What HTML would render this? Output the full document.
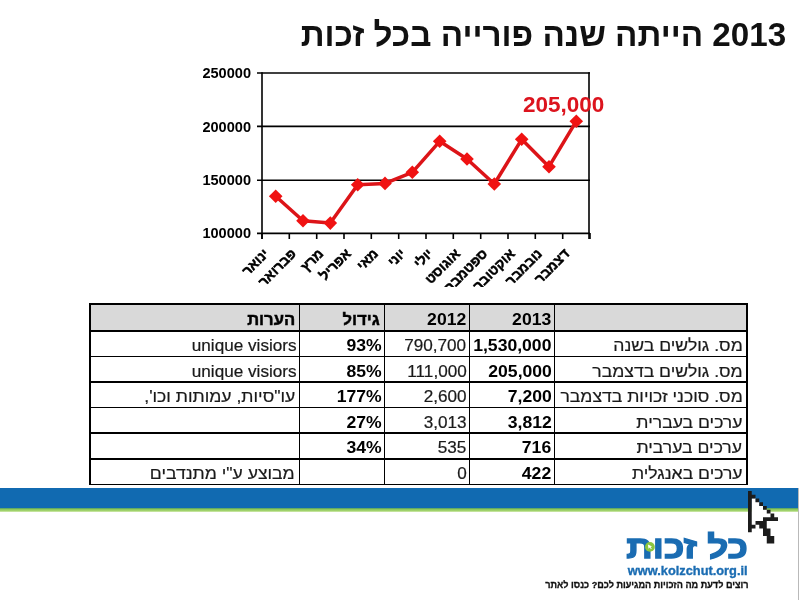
<!DOCTYPE html>
<html lang="he"><head><meta charset="utf-8"><title>2013 הייתה שנה פורייה בכל זכות</title>
<style>
html,body{margin:0;padding:0;background:#fff}
body{width:800px;height:600px;position:relative;overflow:hidden;font-family:"Liberation Sans",sans-serif;color:#000}
#title{position:absolute;right:13.8px;top:15.4px;font-size:33.2px;font-weight:700;direction:rtl;white-space:nowrap;line-height:40px;color:#111}
#chart{position:absolute;left:0;top:0}
#tbl{position:absolute;left:0;top:0;width:800px;height:600px}
#tbl .frame{position:absolute;left:88.5px;top:302.5px;width:655.5px;height:179.3px;border:2px solid #000;border-bottom-width:1.5px;box-sizing:content-box}
#tbl .hd{position:absolute;left:90px;top:304px;width:657px;height:27px;background:#d9d9d9}
.hl{position:absolute;left:90px;width:657px;height:1.5px;background:#000}
.vl{position:absolute;top:304px;height:180px;width:1.5px;background:#000}
.c{position:absolute;box-sizing:border-box;padding:0 3px;text-align:right;white-space:nowrap;font-size:15.8px;-webkit-text-stroke:0.2px #1a1a1a;display:flex;align-items:center;justify-content:flex-end;color:#1a1a1a}
.c span{display:inline-block;transform:scaleX(1.085);transform-origin:right center;position:relative;top:2.4px}
.c.he,.c.heb{direction:rtl;justify-content:flex-start;font-size:16px;padding:0 4.5px}
.c.he span,.c.heb span{transform:scaleX(1.10);top:2.4px}
.c.la{font-size:15.8px}
.c.nb,.c.heb{font-weight:700;color:#000;-webkit-text-stroke:0}
.c.nb{font-size:16.3px}
.c.nb span{transform:scaleX(1.08);top:1.8px}
.c.heb{-webkit-text-stroke:0.45px #000}
.c.heb span{transform:scaleX(1.04);top:2.2px}
#band{position:absolute;left:0;top:488px;width:798px;height:20px;background:#116ab1}
#band2{position:absolute;left:0;top:508px;width:798px;height:3.8px;background:linear-gradient(#4a9a6a,#8fc95c 35%,#a6d572 75%,#dff0c4)}
#logo{position:absolute;right:52.5px;top:527px;font-size:31.5px;font-weight:700;color:#1a6cb2;direction:rtl;white-space:nowrap;line-height:40px;-webkit-text-stroke:1.3px #1a6cb2;transform:scaleX(1.17);transform-origin:right center}
#dot{position:absolute;left:645.4px;top:542.2px;width:9.8px;height:9.8px}
#redge{position:absolute;left:798px;top:488px;width:1.4px;height:112px;background:#b9b9b9}
#url{position:absolute;right:52.6px;top:561.6px;font-size:13px;font-weight:700;color:#1a6cb2;white-space:nowrap;line-height:18px;-webkit-text-stroke:0.35px #1a6cb2;transform:scaleX(0.985);transform-origin:right center}
#tag{position:absolute;right:51.5px;top:577.4px;font-size:9.8px;font-weight:700;color:#111;direction:rtl;white-space:nowrap;line-height:16px;-webkit-text-stroke:0.3px #111;transform:scaleX(0.93);transform-origin:right center}
#cursor{position:absolute;left:748.25px;top:491px}
</style></head><body>
<div id="title">2013 הייתה שנה פורייה בכל זכות</div>
<svg id="chart" width="800" height="300" viewBox="0 0 800 300">
<defs><clipPath id="cp"><rect x="200" y="236" width="420" height="51"/></clipPath></defs>
<g stroke="#000" stroke-width="1.6" fill="none">
<line x1="257" y1="73" x2="590" y2="73"/><line x1="257" y1="126.4" x2="590" y2="126.4"/><line x1="257" y1="180.3" x2="590" y2="180.3"/><line x1="257" y1="233.4" x2="590" y2="233.4"/>
<line x1="262" y1="72.2" x2="262" y2="239"/><line x1="589" y1="72.2" x2="589" y2="239"/>
<line x1="262.0" y1="233" x2="262.0" y2="239"/><line x1="289.3" y1="233" x2="289.3" y2="239"/><line x1="316.7" y1="233" x2="316.7" y2="239"/><line x1="344.0" y1="233" x2="344.0" y2="239"/><line x1="371.3" y1="233" x2="371.3" y2="239"/><line x1="398.7" y1="233" x2="398.7" y2="239"/><line x1="426.0" y1="233" x2="426.0" y2="239"/><line x1="453.3" y1="233" x2="453.3" y2="239"/><line x1="480.7" y1="233" x2="480.7" y2="239"/><line x1="508.0" y1="233" x2="508.0" y2="239"/><line x1="535.3" y1="233" x2="535.3" y2="239"/><line x1="562.7" y1="233" x2="562.7" y2="239"/><line x1="590.0" y1="233" x2="590.0" y2="239"/>
</g>
<g font-family="Liberation Sans, sans-serif" font-weight="700" font-size="14.4px" fill="#000"><text x="251" y="78.1" text-anchor="end" textLength="48.6" lengthAdjust="spacingAndGlyphs">250000</text><text x="251" y="131.5" text-anchor="end" textLength="48.6" lengthAdjust="spacingAndGlyphs">200000</text><text x="251" y="185.1" text-anchor="end" textLength="48.6" lengthAdjust="spacingAndGlyphs">150000</text><text x="251" y="238.3" text-anchor="end" textLength="48.6" lengthAdjust="spacingAndGlyphs">100000</text></g>
<polyline points="275.7,196.2 303.0,220.7 330.3,223.1 357.7,184.8 385.0,183.4 412.3,172.3 439.7,141.3 467.0,159.0 494.3,184.0 521.7,139.3 549.0,166.7 576.3,121.2" fill="none" stroke="#dc1418" stroke-width="3.5" stroke-linejoin="round"/>
<g fill="#f01212"><path d="M275.7 189.4L282.5 196.2L275.7 203.0L268.9 196.2Z"/><path d="M303.0 213.9L309.8 220.7L303.0 227.5L296.2 220.7Z"/><path d="M330.3 216.3L337.1 223.1L330.3 229.9L323.5 223.1Z"/><path d="M357.7 178.0L364.5 184.8L357.7 191.6L350.9 184.8Z"/><path d="M385.0 176.6L391.8 183.4L385.0 190.2L378.2 183.4Z"/><path d="M412.3 165.5L419.1 172.3L412.3 179.1L405.5 172.3Z"/><path d="M439.7 134.5L446.5 141.3L439.7 148.1L432.9 141.3Z"/><path d="M467.0 152.2L473.8 159.0L467.0 165.8L460.2 159.0Z"/><path d="M494.3 177.2L501.1 184.0L494.3 190.8L487.5 184.0Z"/><path d="M521.7 132.5L528.5 139.3L521.7 146.1L514.9 139.3Z"/><path d="M549.0 159.9L555.8 166.7L549.0 173.5L542.2 166.7Z"/><path d="M576.3 114.4L583.1 121.2L576.3 128.0L569.5 121.2Z"/></g>
<text x="523" y="111.5" font-family="Liberation Sans, sans-serif" font-weight="700" font-size="22.5px" fill="#dc141e">205,000</text>
<g clip-path="url(#cp)" font-family="Liberation Sans, sans-serif" font-weight="700" font-size="13.6px" fill="#000" stroke="#000" stroke-width="0.5"><text transform="translate(269.7 254.5) rotate(-45)" text-anchor="end">ינואר</text><text transform="translate(297.0 254.5) rotate(-45)" text-anchor="end">פברואר</text><text transform="translate(324.3 254.5) rotate(-45)" text-anchor="end">מרץ</text><text transform="translate(351.7 254.5) rotate(-45)" text-anchor="end">אפריל</text><text transform="translate(379.0 254.5) rotate(-45)" text-anchor="end">מאי</text><text transform="translate(406.3 254.5) rotate(-45)" text-anchor="end">יוני</text><text transform="translate(433.7 254.5) rotate(-45)" text-anchor="end">יולי</text><text transform="translate(461.0 254.5) rotate(-45)" text-anchor="end">אוגוסט</text><text transform="translate(488.3 254.5) rotate(-45)" text-anchor="end">ספטמבר</text><text transform="translate(515.7 254.5) rotate(-45)" text-anchor="end">אוקטובר</text><text transform="translate(543.0 254.5) rotate(-45)" text-anchor="end">נובמבר</text><text transform="translate(570.3 254.5) rotate(-45)" text-anchor="end">דצמבר</text></g>
</svg>
<div id="tbl"><div class="hd"></div><div class="hl" style="top:330.25px"></div><div class="hl" style="top:355.75px"></div><div class="hl" style="top:381.25px"></div><div class="hl" style="top:406.75px"></div><div class="hl" style="top:432.25px"></div><div class="hl" style="top:458.0px"></div><div class="vl" style="left:298.75px"></div><div class="vl" style="left:383.5px"></div><div class="vl" style="left:468.75px"></div><div class="vl" style="left:553.75px"></div><div class="frame"></div><div class="c he" style="left:554.5px;width:192.5px;top:331px;height:25.5px"><span>מס. גולשים בשנה</span></div><div class="c nb" style="left:469.5px;width:85.0px;top:331px;height:25.5px"><span>1,530,000</span></div><div class="c n" style="left:384.25px;width:85.25px;top:331px;height:25.5px"><span>790,700</span></div><div class="c nb" style="left:299.5px;width:84.75px;top:331px;height:25.5px"><span>93%</span></div><div class="c la" style="left:89.5px;width:210.0px;top:331px;height:25.5px"><span>unique visiors</span></div><div class="c he" style="left:554.5px;width:192.5px;top:356.5px;height:25.5px"><span>מס. גולשים בדצמבר</span></div><div class="c nb" style="left:469.5px;width:85.0px;top:356.5px;height:25.5px"><span>205,000</span></div><div class="c n" style="left:384.25px;width:85.25px;top:356.5px;height:25.5px"><span>111,000</span></div><div class="c nb" style="left:299.5px;width:84.75px;top:356.5px;height:25.5px"><span>85%</span></div><div class="c la" style="left:89.5px;width:210.0px;top:356.5px;height:25.5px"><span>unique visiors</span></div><div class="c he" style="left:554.5px;width:192.5px;top:382px;height:25.5px"><span>מס. סוכני זכויות בדצמבר</span></div><div class="c nb" style="left:469.5px;width:85.0px;top:382px;height:25.5px"><span>7,200</span></div><div class="c n" style="left:384.25px;width:85.25px;top:382px;height:25.5px"><span>2,600</span></div><div class="c nb" style="left:299.5px;width:84.75px;top:382px;height:25.5px"><span>177%</span></div><div class="c he" style="left:89.5px;width:210.0px;top:382px;height:25.5px"><span>עו"סיות, עמותות וכו',</span></div><div class="c he" style="left:554.5px;width:192.5px;top:407.5px;height:25.5px"><span>ערכים בעברית</span></div><div class="c nb" style="left:469.5px;width:85.0px;top:407.5px;height:25.5px"><span>3,812</span></div><div class="c n" style="left:384.25px;width:85.25px;top:407.5px;height:25.5px"><span>3,013</span></div><div class="c nb" style="left:299.5px;width:84.75px;top:407.5px;height:25.5px"><span>27%</span></div><div class="c he" style="left:554.5px;width:192.5px;top:433px;height:25.75px"><span>ערכים בערבית</span></div><div class="c nb" style="left:469.5px;width:85.0px;top:433px;height:25.75px"><span>716</span></div><div class="c n" style="left:384.25px;width:85.25px;top:433px;height:25.75px"><span>535</span></div><div class="c nb" style="left:299.5px;width:84.75px;top:433px;height:25.75px"><span>34%</span></div><div class="c he" style="left:554.5px;width:192.5px;top:458.75px;height:25.75px"><span>ערכים באנגלית</span></div><div class="c nb" style="left:469.5px;width:85.0px;top:458.75px;height:25.75px"><span>422</span></div><div class="c n" style="left:384.25px;width:85.25px;top:458.75px;height:25.75px"><span>0</span></div><div class="c he" style="left:89.5px;width:210.0px;top:458.75px;height:25.75px"><span>מבוצע ע"י מתנדבים</span></div><div class="c nb h" style="left:469.5px;width:85.0px;top:304px;height:27px"><span>2013</span></div><div class="c nb h" style="left:384.25px;width:85.25px;top:304px;height:27px"><span>2012</span></div><div class="c heb h" style="left:299.5px;width:84.75px;top:304px;height:27px"><span>גידול</span></div><div class="c heb h" style="left:89.5px;width:210.0px;top:304px;height:27px"><span>הערות</span></div></div>
<div id="band"></div><div id="band2"></div>
<div id="logo">כל זכות</div><svg id="dot" viewBox="0 0 10 10"><circle cx="5" cy="5" r="5" fill="#8cc63f"/><path d="M3 2.6L7.2 4.6L5.6 5.2L6.9 7L6.1 7.5L4.9 5.7L3.6 6.8Z" fill="#fff"/></svg><div id="redge"></div>
<div id="url">www.kolzchut.org.il</div>
<div id="tag">רוצים לדעת מה הזכויות המגיעות לכם? כנסו לאתר</div>
<svg id="cursor" width="31" height="53" viewBox="0 0 31 53"><path d="M3.45 7.20h4.35v4.35h-4.35zM3.45 10.95h4.35v4.35h-4.35zM7.20 10.95h4.35v4.35h-4.35zM3.45 14.70h4.35v4.35h-4.35zM7.20 14.70h4.35v4.35h-4.35zM10.95 14.70h4.35v4.35h-4.35zM3.45 18.45h4.35v4.35h-4.35zM7.20 18.45h4.35v4.35h-4.35zM10.95 18.45h4.35v4.35h-4.35zM14.70 18.45h4.35v4.35h-4.35zM3.45 22.20h4.35v4.35h-4.35zM7.20 22.20h4.35v4.35h-4.35zM10.95 22.20h4.35v4.35h-4.35zM14.70 22.20h4.35v4.35h-4.35zM18.45 22.20h4.35v4.35h-4.35zM3.45 25.95h4.35v4.35h-4.35zM7.20 25.95h4.35v4.35h-4.35zM10.95 25.95h4.35v4.35h-4.35zM3.45 29.70h4.35v4.35h-4.35zM7.20 33.45h4.35v4.35h-4.35z" fill="#fff"/><path d="M0.00 0.00h3.75v3.75h-3.75zM0.00 3.75h3.75v3.75h-3.75zM0.00 7.50h3.75v3.75h-3.75zM0.00 11.25h3.75v3.75h-3.75zM0.00 15.00h3.75v3.75h-3.75zM0.00 18.75h3.75v3.75h-3.75zM0.00 22.50h3.75v3.75h-3.75zM0.00 26.25h3.75v3.75h-3.75zM0.00 30.00h3.75v3.75h-3.75zM0.00 33.75h3.75v3.75h-3.75zM0.00 37.50h3.75v3.75h-3.75zM3.75 3.75h3.75v3.75h-3.75zM7.50 7.50h3.75v3.75h-3.75zM11.25 11.25h3.75v3.75h-3.75zM15.00 15.00h3.75v3.75h-3.75zM18.75 18.75h3.75v3.75h-3.75zM22.50 22.50h3.75v3.75h-3.75zM15.00 26.25h3.75v3.75h-3.75zM18.75 26.25h3.75v3.75h-3.75zM22.50 26.25h3.75v3.75h-3.75zM26.25 26.25h3.75v3.75h-3.75zM7.50 30.00h3.75v3.75h-3.75zM11.25 30.00h3.75v3.75h-3.75zM15.00 30.00h3.75v3.75h-3.75zM3.75 33.75h3.75v3.75h-3.75zM11.25 33.75h3.75v3.75h-3.75zM15.00 33.75h3.75v3.75h-3.75zM15.00 37.50h3.75v3.75h-3.75zM18.75 37.50h3.75v3.75h-3.75zM15.00 41.25h3.75v3.75h-3.75zM18.75 41.25h3.75v3.75h-3.75zM18.75 45.00h3.75v3.75h-3.75zM22.50 45.00h3.75v3.75h-3.75zM18.75 48.75h3.75v3.75h-3.75zM22.50 48.75h3.75v3.75h-3.75z" fill="#1c1c1c"/></svg>
</body></html>
